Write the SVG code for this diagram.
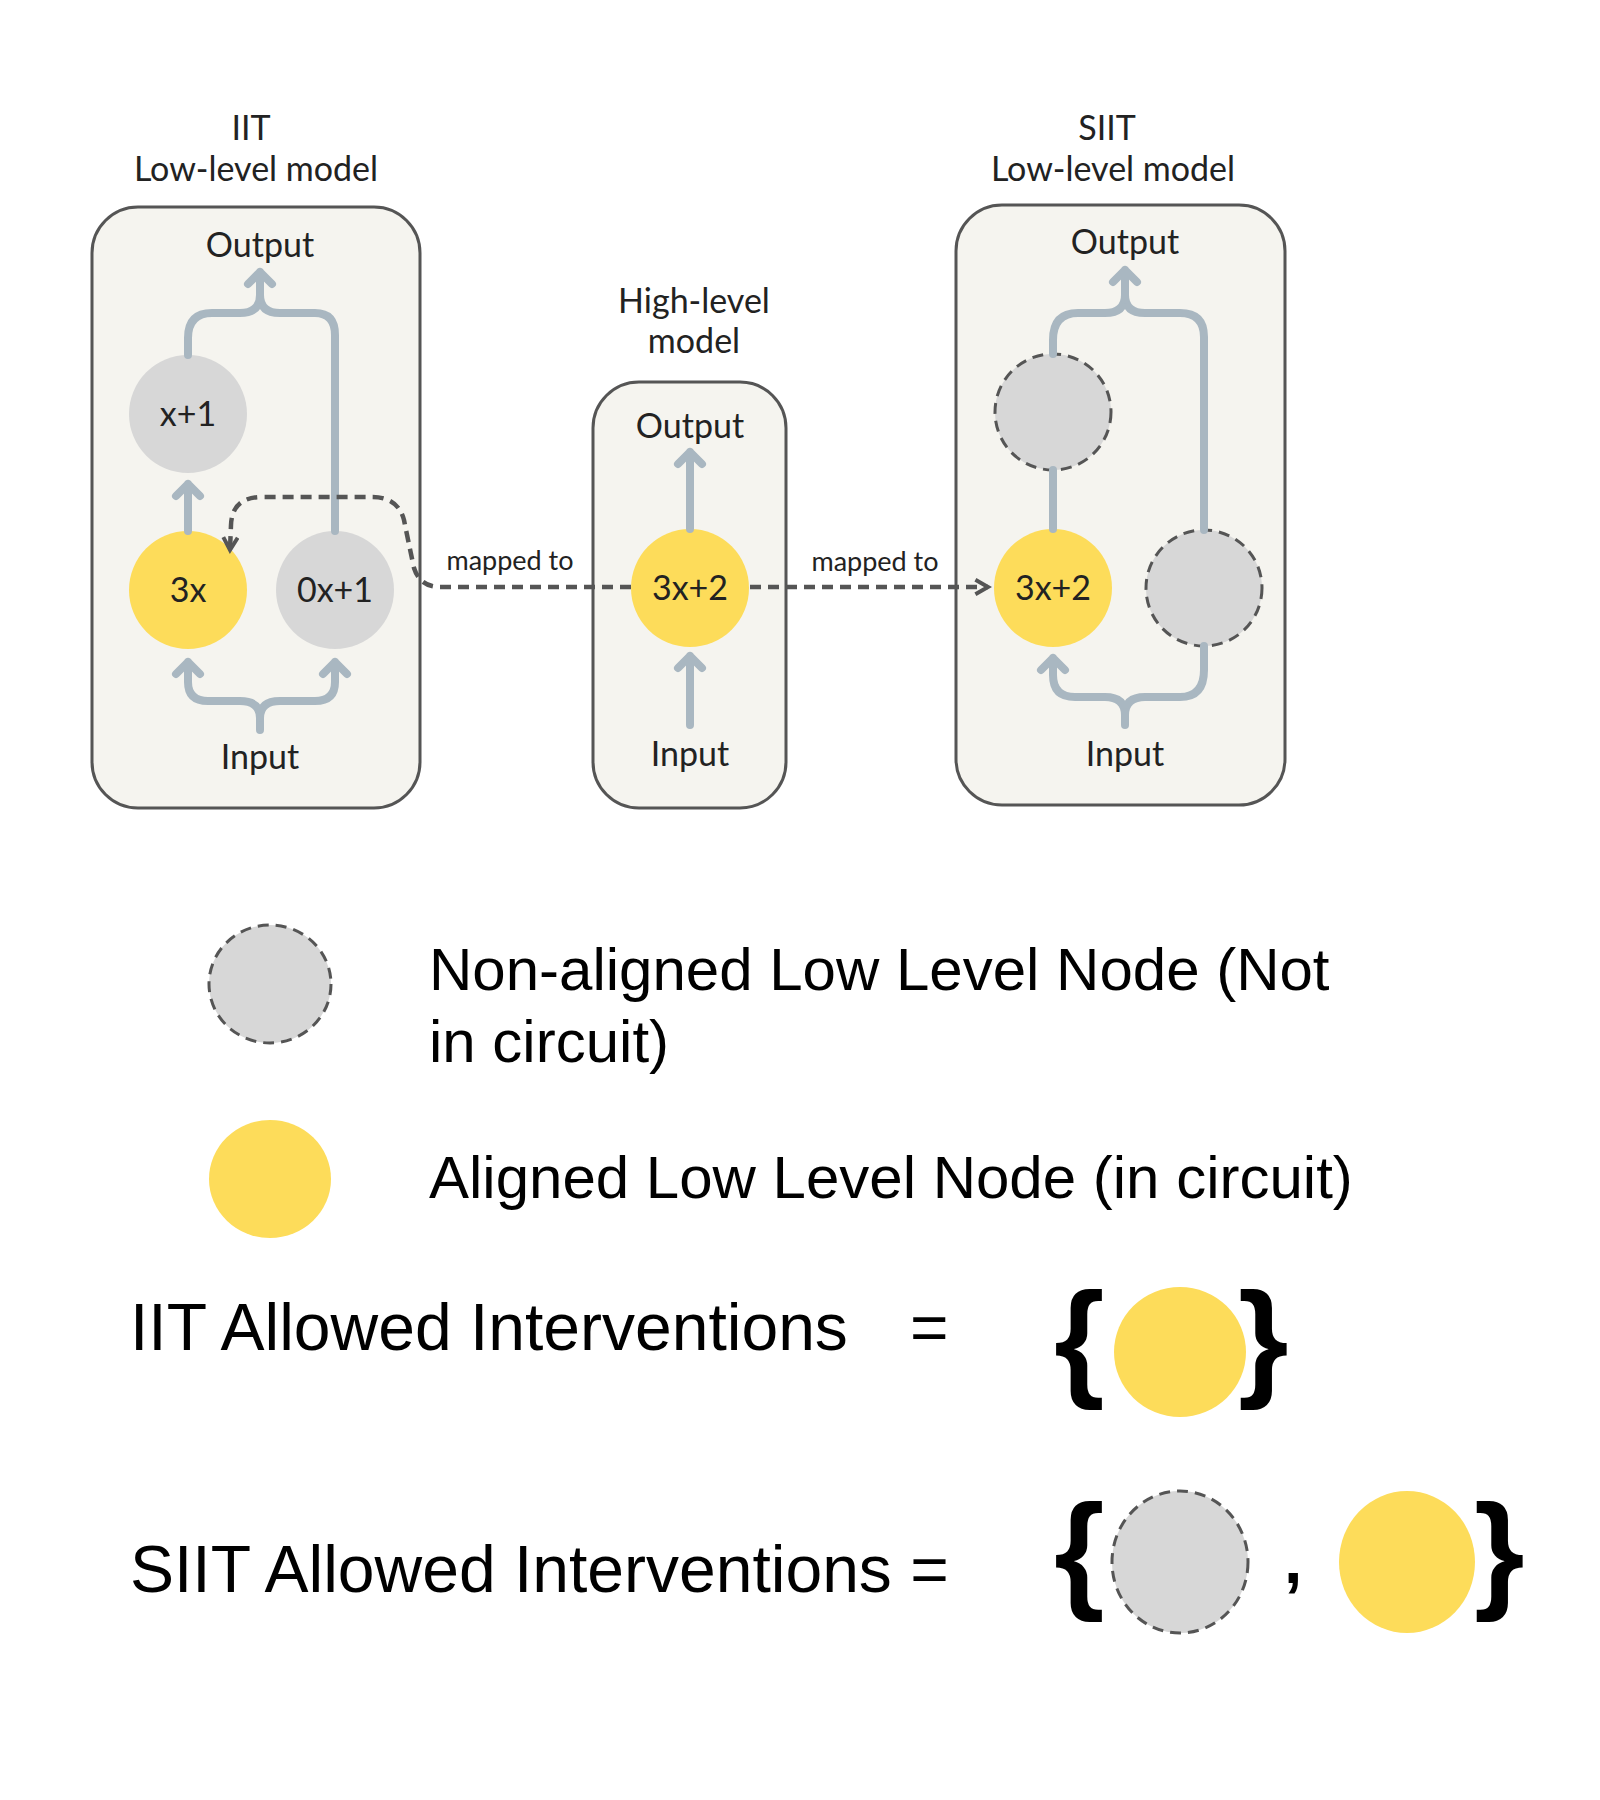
<svg xmlns="http://www.w3.org/2000/svg" width="1600" height="1800" viewBox="0 0 1600 1800">
<defs>
<style>
.box{fill:#f5f4ef;stroke:#555;stroke-width:3}
.t{font-family:Lato,"Open Sans","Liberation Sans",sans-serif;fill:#222;text-anchor:middle}
.tt{font-size:34px}
.ln{fill:none;stroke:#a9b7c1;stroke-width:8;stroke-linecap:round;stroke-linejoin:round}
.dash{fill:none;stroke:#555;stroke-width:4.5;stroke-dasharray:11 7}
.y{fill:#fddc5a}
.g{fill:#d7d7d7}
.gd{fill:#d7d7d7;stroke:#555;stroke-width:3;stroke-dasharray:11 7}
.L{font-family:"Liberation Sans",Arial,sans-serif;fill:#000}
</style>
<marker id="ah" viewBox="0 0 10 10" refX="8" refY="5" markerWidth="4" markerHeight="4" orient="auto"><path d="M1,1 L8,5 L1,9" fill="none" stroke="#555" stroke-width="2.2"/></marker>
</defs>

<g id="iit-model">
<rect class="box" x="92" y="207" width="328" height="601" rx="46"/>
<text class="t tt" x="251" y="140">IIT</text>
<text class="t tt" x="256" y="181">Low-level model</text>
<text class="t tt" x="260" y="257">Output</text>
<text class="t tt" x="260" y="769">Input</text>
</g>
<g id="iit-x1"><circle class="g" cx="188" cy="414" r="59"/><text class="t tt" x="188" y="426">x+1</text></g>
<g id="iit-3x"><circle class="y" cx="188" cy="590" r="59"/><text class="t tt" x="188" y="602">3x</text></g>
<g id="iit-0x1"><circle class="g" cx="335" cy="590" r="59"/><text class="t tt" x="335" y="602">0x+1</text></g>

<g id="high-model">
<rect class="box" x="593" y="382" width="193" height="426" rx="46"/>
<text class="t tt" x="694" y="313">High-level</text>
<text class="t tt" x="694" y="353">model</text>
<text class="t tt" x="690" y="438">Output</text>
<text class="t tt" x="690" y="766">Input</text>
</g>
<g id="high-3x2"><circle class="y" cx="690" cy="588" r="59"/><text class="t tt" x="690" y="600">3x+2</text></g>

<g id="siit-model">
<rect class="box" x="956" y="205" width="329" height="600" rx="46"/>
<text class="t tt" x="1107" y="140">SIIT</text>
<text class="t tt" x="1113" y="181">Low-level model</text>
<text class="t tt" x="1125" y="254">Output</text>
<text class="t tt" x="1125" y="766">Input</text>
</g>
<g id="siit-top"><circle class="gd" cx="1053" cy="412" r="58"/></g>
<g id="siit-3x2"><circle class="y" cx="1053" cy="588" r="59"/><text class="t tt" x="1053" y="600">3x+2</text></g>
<g id="siit-right"><circle class="gd" cx="1204" cy="588" r="58"/></g>

<g id="connectors">
<path class="ln" d="M188,355 V338 Q188,313 212,313 H240 Q260,313 260,295 Q260,313 280,313 H315 Q335,313 335,335 V531"/>
<path class="ln" d="M260,300 V272 M248,284 L260,272 L272,284"/>
<path class="ln" d="M188,531 V484 M176,496 L188,484 L200,496"/>
<path class="ln" d="M260,730 V718 Q260,701 240,701 H208 Q188,701 188,682 V662 M176,674 L188,662 L200,674"/>
<path class="ln" d="M260,718 Q260,701 280,701 H315 Q335,701 335,682 V662 M323,674 L335,662 L347,674"/>
<path class="ln" d="M690,529 V452 M678,464 L690,452 L702,464"/>
<path class="ln" d="M690,725 V656 M678,668 L690,656 L702,668"/>
<path class="ln" d="M1053,470 V529"/>
<path class="ln" d="M1053,354 V340 Q1053,313 1078,313 H1105 Q1125,313 1125,295 Q1125,313 1145,313 H1180 Q1204,313 1204,337 V530"/>
<path class="ln" d="M1125,300 V270 M1113,282 L1125,270 L1137,282"/>
<path class="ln" d="M1204,646 V670 Q1204,697 1180,697 H1145 Q1125,697 1125,715 Q1125,697 1105,697 H1075 Q1053,697 1053,675 V658 M1041,670 L1053,658 L1065,670"/>
<path class="ln" d="M1125,712 V725"/>
<path class="dash" d="M631,587 H440 Q420,587 414,568 Q408,540 404,520 Q398,497 372,497 H262 Q232,497 231,525 L230,550" marker-end="url(#ah)"/>
<path class="dash" d="M750,587 H988" marker-end="url(#ah)"/>
<text class="t" style="font-size:27px" x="510" y="570">mapped to</text>
<text class="t" style="font-size:27px" x="875" y="571">mapped to</text>
</g>

<g id="legend">
<ellipse class="gd" cx="270" cy="984" rx="61" ry="59"/>
<text class="L" x="429" y="990" font-size="60">Non-aligned Low Level Node (Not</text>
<text class="L" x="429" y="1062" font-size="60">in circuit)</text>
<ellipse class="y" cx="270" cy="1179" rx="61" ry="59"/>
<text class="L" x="429" y="1198" font-size="60">Aligned Low Level Node (in circuit)</text>
</g>

<g id="iit-allowed">
<text class="L" x="130" y="1350" font-size="66">IIT Allowed Interventions</text>
<text class="L" x="910" y="1350" font-size="66">=</text>
<text class="L" x="1054" y="1383" font-size="130" font-weight="bold">{</text>
<ellipse class="y" cx="1180" cy="1352" rx="66" ry="65"/>
<text class="L" x="1238" y="1383" font-size="130" font-weight="bold">}</text>
</g>
<g id="siit-allowed">
<text class="L" x="130" y="1592" font-size="66">SIIT Allowed Interventions =</text>
<text class="L" x="1054" y="1595" font-size="130" font-weight="bold">{</text>
<ellipse class="gd" cx="1180" cy="1562" rx="68" ry="71"/>
<text class="L" x="1284" y="1583" font-size="66" font-weight="bold">,</text>
<ellipse class="y" cx="1407" cy="1562" rx="68" ry="71"/>
<text class="L" x="1474" y="1595" font-size="130" font-weight="bold">}</text>
</g>
</svg>
